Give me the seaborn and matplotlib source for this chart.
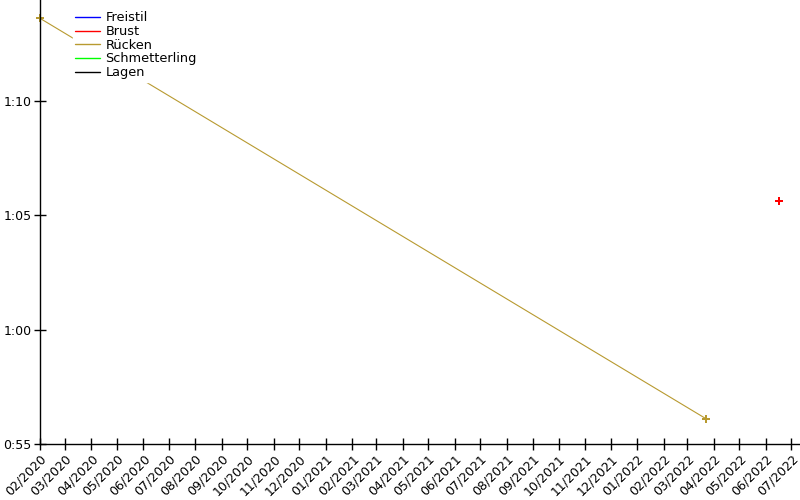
import pandas as pd
import matplotlib
matplotlib.use('Agg')
import matplotlib.pyplot as plt
import matplotlib.dates as mdates
from matplotlib.ticker import FuncFormatter
from matplotlib.lines import Line2D
import seaborn as sns

# Daten (Zeiten in Sekunden)
styles = ['Freistil', 'Brust', 'Rücken', 'Schmetterling', 'Lagen']
colors = ['#0000ff', '#ff0000', '#b89a30', '#00ff00', '#000000']

brust_dates = ['2022-06-16']
brust_secs = [65.6]

ruecken_dates = ['2020-02-01', '2022-03-23']
ruecken_secs = [73.6, 56.1]

df = pd.concat([
    pd.DataFrame({'datum': pd.to_datetime(brust_dates), 'zeit': brust_secs, 'lage': 'Brust'}),
    pd.DataFrame({'datum': pd.to_datetime(ruecken_dates), 'zeit': ruecken_secs, 'lage': 'Rücken'}),
], ignore_index=True)

palette = dict(zip(styles, colors))

sns.set_style('white')
plt.rcParams['font.family'] = ['DejaVu Sans']
plt.rcParams['text.color'] = 'black'

fig = plt.figure(figsize=(8, 5), dpi=100)
ax = fig.add_axes([0.05, 0.112, 0.95, 0.888])

for lage, grp in df.groupby('lage'):
    sns.lineplot(data=grp, x='datum', y='zeit', color=palette[lage], ax=ax,
                 marker='P', markersize=5.3, markeredgewidth=0, linewidth=0.8,
                 legend=False, clip_on=False)

ax.set_xlim(pd.Timestamp('2020-02-01'), pd.Timestamp('2022-07-11'))
ax.set_ylim(55, 74.4)

# Achsen
ax.xaxis.set_major_locator(mdates.MonthLocator())
ax.xaxis.set_major_formatter(mdates.DateFormatter('%m/%Y'))
ax.set_yticks([55, 60, 65, 70])
ax.yaxis.set_major_formatter(FuncFormatter(lambda v, p: f'{int(v // 60)}:{int(round(v % 60)):02d}'))
for lbl in ax.get_xticklabels():
    lbl.set_rotation(45)
    lbl.set_ha('right')
    lbl.set_rotation_mode('anchor')
ax.tick_params(axis='both', bottom=True, left=True, direction='inout', length=8, width=1,
               labelsize=9, colors='black', pad=2)
ax.set_xlabel('')
ax.set_ylabel('')
for side in ['top', 'right']:
    ax.spines[side].set_visible(False)
for side in ['left', 'bottom']:
    ax.spines[side].set_color('black')
    ax.spines[side].set_linewidth(1)

# Legende
handles = [Line2D([0], [0], color=c, linewidth=1) for c in colors]
leg = ax.legend(handles, styles, loc='upper left', bbox_to_anchor=(0.043, 0.98),
                fontsize=9.3, labelspacing=0.05, handlelength=1.95, handletextpad=0.4,
                borderpad=0.2, borderaxespad=0, frameon=True, fancybox=False)
leg.get_frame().set_edgecolor('white')
leg.get_frame().set_facecolor('white')
leg.get_frame().set_alpha(1)

fig.savefig('out.png', dpi=100)
